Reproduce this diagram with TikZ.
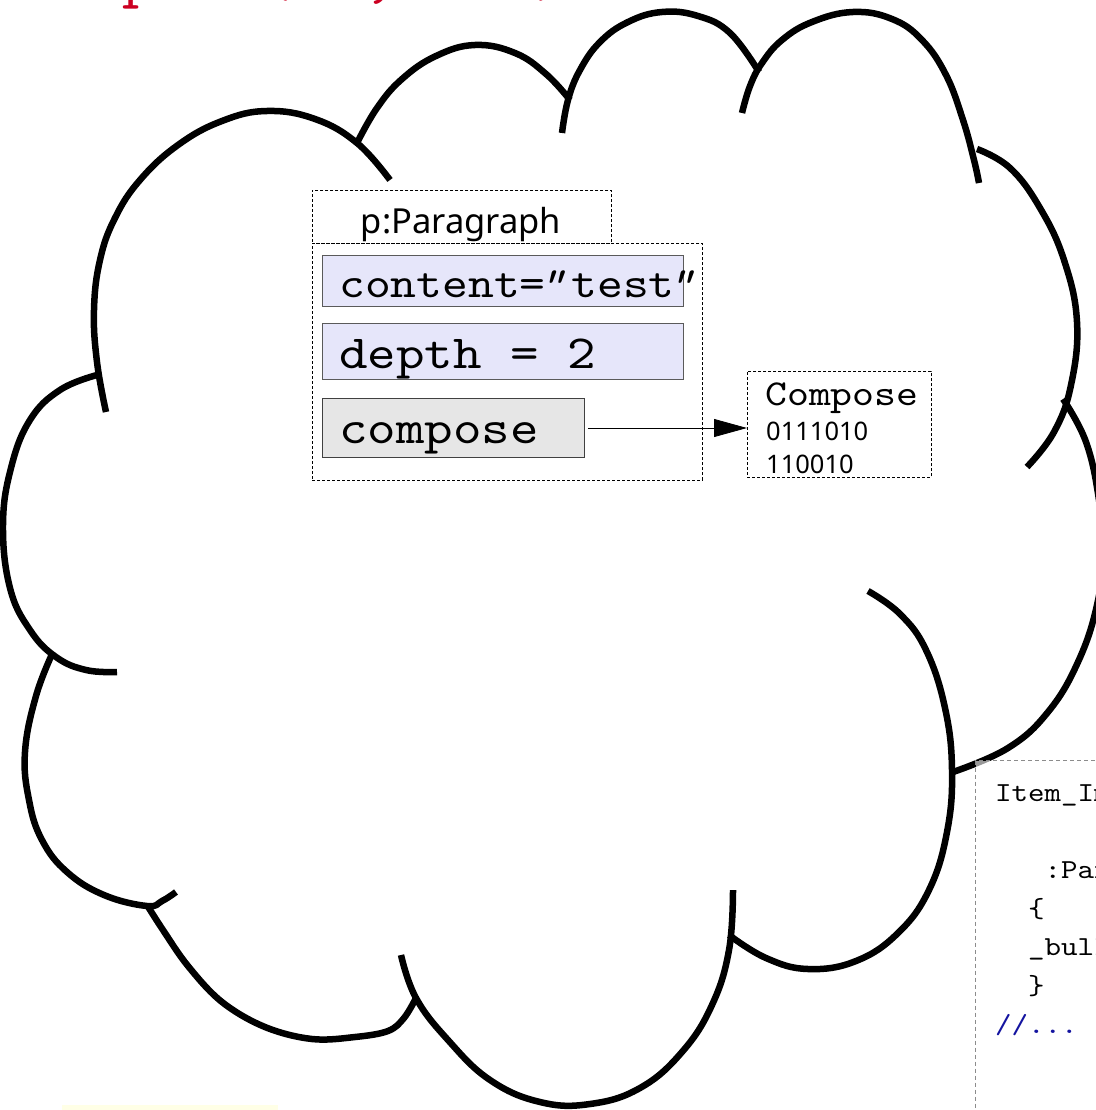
\documentclass[tikz,border=0pt]{standalone}
\usepackage{fontspec}
\usetikzlibrary{arrows.meta}
\newfontfamily\codefont{lmmono10-regular.otf}[FakeStretch=1.143]
\newfontfamily\quotefont{lmmono10-regular.otf}[FakeStretch=1.143,FakeSlant=0.3]
\newfontfamily\labelfont{Noto Sans}
\definecolor{slotfill}{RGB}{230,230,250}
\definecolor{slotdraw}{RGB}{90,90,90}
\definecolor{opfill}{RGB}{230,230,230}
\definecolor{callred}{RGB}{204,0,34}
\definecolor{commentblue}{RGB}{20,20,160}
\definecolor{notefill}{RGB}{255,255,230}
% slanted straight double quote, drawn back over its own cell
\newcommand{\sq}{{\quotefont\kern-0.17em"\kern0.17em}}
\tikzset{
  cloudline/.style={line width=6.5pt, line join=round},
  frame/.style={draw=black, line width=0.8pt, dash pattern=on 3pt off 2pt,
    inner sep=0pt, anchor=north west},
  slot/.style={draw=slotdraw, line width=1pt, fill=slotfill, inner sep=0pt, anchor=north west},
  opslot/.style={draw=black!75, line width=1pt, fill=opfill, inner sep=0pt, anchor=north west},
  codebox/.style={draw=black!45, line width=1pt, dash pattern=on 4pt off 3pt,
    fill=white, fill opacity=0.6, inner sep=0pt, anchor=north west},
  txt/.style={anchor=base west, inner sep=0pt},
  codeline/.style={txt, font=\codefont\fontsize{27.5}{30}\selectfont},
  link/.style={line width=0.8pt, -{Triangle[length=33pt,width=18pt]}},
}
\begin{document}
\begin{tikzpicture}[x=1pt,y=-1pt]
\useasboundingbox (0,0) rectangle (1095,1110);
\fill[white] (0,0) rectangle (1095,1110);

% call line running off the top edge
\node[txt, text=callred, font=\codefont\fontsize{57}{60}\selectfont] (call) at (20,-3)
  {compose(40, 100) on demand};

% faint note peeking in at the bottom
\fill[notefill] (62,1105) rectangle (278,1110);

% cloud outline, one arc per lobe
\draw[cloudline] plot[smooth, tension=0.7] coordinates {(106,412) (97,362) (94,310) (100,260) (115,218) (140,180) (178,145) (222,121) (267,111) (315,119) (357,143) (390,180)};
\draw[cloudline] plot[smooth, tension=0.7] coordinates {(357,143) (377,108) (402,79) (436,56) (475,45) (515,53) (546,74) (570,100)};
\draw[cloudline] plot[smooth, tension=0.7] coordinates {(562,133) (568,100) (580,70) (600,42) (628,22) (662,12) (698,16) (730,33) (759,72)};
\draw[cloudline] plot[smooth, tension=0.7] coordinates {(742,113) (750,86) (762,63) (782,40) (812,22) (853,12) (892,19) (922,40) (946,75) (963,120) (974,160) (979,183)};
\draw[cloudline] plot[smooth, tension=0.7] coordinates {(977,149) (1010,168) (1040,208) (1064,260) (1077,322) (1071,385) (1054,432) (1027,467)};
\draw[cloudline] plot[smooth, tension=0.7] coordinates {(1063,399) (1086,442) (1099,500) (1103,552) (1097,605) (1078,662) (1048,712) (1008,748) (953,772)};
\draw[cloudline] plot[smooth, tension=0.7] coordinates {(868,591) (900,614) (926,650) (945,708) (952,770) (947,832) (929,890) (898,933) (856,961) (808,969) (766,958) (729,935)};
\draw[cloudline] plot[smooth, tension=0.7] coordinates {(733,890) (729,950) (712,1005) (682,1052) (640,1088) (590,1104) (540,1102) (490,1080) (448,1040) (416,998) (401,955)};
\draw[cloudline] plot[smooth, tension=0.6] coordinates {(416,998) (404,1018) (388,1031) (355,1037) (312,1039) (265,1027) (222,1002) (188,966) (163,930) (147,905)};
\draw[cloudline] plot[smooth, tension=0.7] coordinates {(53,652) (36,696) (25,752) (29,800) (42,840) (67,872) (104,895) (147,906) (162,901) (176,892)};
\draw[cloudline] plot[smooth, tension=0.7] coordinates {(97,375) (60,390) (30,420) (11,468) (3,525) (10,588) (30,630) (56,657) (86,670) (117,672)};

% object box with its slots
\node[frame, minimum width=299pt, minimum height=53pt] (title) at (312,190) {};
\node[anchor=base, inner sep=0pt, font=\labelfont\fontsize{34.5}{36}\selectfont] (titletext)
  at (461,233) {p:Paragraph};
\node[frame, minimum width=390pt, minimum height=237pt] (body) at (312,243) {};
\node[slot, minimum width=361pt, minimum height=51pt] (content) at (322,255) {};
\node[slot, minimum width=361pt, minimum height=56pt] (depth) at (322,323) {};
\node[opslot, minimum width=262pt, minimum height=59pt] (compose) at (322,398) {};
\node[txt, font=\codefont\fontsize{43}{45}\selectfont] (contenttext) at (339,297) {content=\sq test\sq};
\node[txt, font=\codefont\fontsize{47.5}{49}\selectfont] (depthtext) at (339,368) {depth = 2};
\node[txt, font=\codefont\fontsize{47.5}{49}\selectfont] (composetext) at (339,443) {compose};

% composed result
\node[frame, minimum width=184pt, minimum height=106pt] (result) at (747,371) {};
\node[txt, font=\codefont\fontsize{36.5}{38}\selectfont] (resulttitle) at (765,405) {Compose};
\node[txt, font=\labelfont\fontsize{25.5}{27}\selectfont] (bits1) at (766,440) {0111010};
\node[txt, font=\labelfont\fontsize{25.5}{27}\selectfont] (bits2) at (766,473) {110010};
\draw[link] ([xshift=3pt]compose.east) -- (compose.east -| result.west);

% source listing in the corner
\node[codebox, minimum width=160pt, minimum height=380pt] (code) at (975,760) {};
\node[codeline] (c1) at (995,801) {Item\_Impl::Item\_Impl()};
\node[codeline] (c2) at (995,878) {\ \ \ :Paragraph()};
\node[codeline] (c3) at (995,917) {\ \ \{};
\node[codeline] (c4) at (995,955) {\ \ \_bullet = true;};
\node[codeline] (c5) at (995,994) {\ \ \}};
\node[codeline, text=commentblue] (c6) at (995,1033) {//...};
\end{tikzpicture}
\end{document}
